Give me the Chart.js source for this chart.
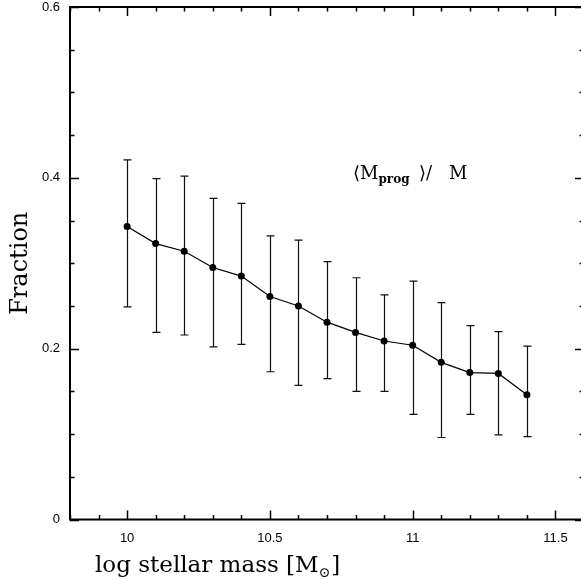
<!DOCTYPE html>
<html lang="en">
  <head>
    <meta charset="utf-8" />
    <title>Progenitor mass fraction</title>
    <script src="https://cdn.jsdelivr.net/npm/chart.js@4.4.1/dist/chart.umd.min.js"></script>
    <style>
      * { margin: 0; padding: 0; box-sizing: border-box; }
      html, body { overflow: hidden; background: #fff; }
      .wrap { width: 584px; height: 580px; }
      #chart { display: block; }
    </style>
  </head>
  <body>
    <div class="wrap">
      <canvas id="chart" width="584" height="580"></canvas>
    </div>

    <script>
      // log stellar mass bins
      const massBins = [10.0, 10.1, 10.2, 10.3, 10.4, 10.5, 10.6, 10.7, 10.8, 10.9, 11.0, 11.1, 11.2, 11.3, 11.4];
      // <M_prog>/M
      const fraction = [0.343, 0.323, 0.314, 0.295, 0.285, 0.261, 0.250, 0.231, 0.219, 0.209, 0.204, 0.184, 0.172, 0.171, 0.146];
      const errHigh = [0.421, 0.399, 0.402, 0.376, 0.370, 0.332, 0.327, 0.302, 0.283, 0.263, 0.279, 0.254, 0.227, 0.220, 0.203];
      const errLow = [0.249, 0.219, 0.216, 0.202, 0.205, 0.173, 0.157, 0.165, 0.150, 0.150, 0.123, 0.096, 0.123, 0.099, 0.097];

      const xTicks = [10, 10.5, 11, 11.5];
      const yTicks = [0, 0.2, 0.4, 0.6];
      const xMinorStep = 0.1;
      const yMinorStep = 0.05;

      const serif = "'DejaVu Serif', 'Liberation Serif', serif";
      const sans = "'Liberation Sans', Arial, sans-serif";

      // error bars, frame with inward ticks, annotation, x title
      const decorations = {
        id: "decorations",
        beforeDatasetsDraw(chart) {
          const { ctx, scales: { x, y } } = chart;
          ctx.save();
          ctx.strokeStyle = "#111";
          ctx.lineWidth = 1.2;
          massBins.forEach((m, i) => {
            const px = Math.round(x.getPixelForValue(m)) + 0.5;
            const top = y.getPixelForValue(errHigh[i]);
            const bot = y.getPixelForValue(errLow[i]);
            ctx.beginPath();
            ctx.moveTo(px, top);
            ctx.lineTo(px, bot);
            ctx.moveTo(px - 4, top);
            ctx.lineTo(px + 4, top);
            ctx.moveTo(px - 4, bot);
            ctx.lineTo(px + 4, bot);
            ctx.stroke();
          });
          ctx.restore();
        },
        afterDraw(chart) {
          const { ctx, chartArea: a, scales: { x, y } } = chart;
          ctx.save();
          ctx.strokeStyle = "#000";
          ctx.lineWidth = 2;
          ctx.strokeRect(a.left, a.top, a.right - a.left, a.bottom - a.top);

          ctx.lineWidth = 1.5;
          ctx.beginPath();
          // x ticks, bottom and top
          for (let v = x.min; v <= x.max + 1e-6; v += xMinorStep) {
            const major = xTicks.some((t) => Math.abs(t - v) < 1e-6);
            const len = major ? 9 : 4.5;
            const px = Math.round(x.getPixelForValue(v)) + 0.5;
            ctx.moveTo(px, a.bottom);
            ctx.lineTo(px, a.bottom - len);
            ctx.moveTo(px, a.top);
            ctx.lineTo(px, a.top + len);
          }
          // y ticks, left and right
          for (let v = y.min; v <= y.max + 1e-6; v += yMinorStep) {
            const major = yTicks.some((t) => Math.abs(t - v) < 1e-6);
            const len = major ? 9 : 4.5;
            const py = Math.round(y.getPixelForValue(v)) + 0.5;
            ctx.moveTo(a.left, py);
            ctx.lineTo(a.left + len, py);
            ctx.moveTo(a.right, py);
            ctx.lineTo(a.right - len, py);
          }
          ctx.stroke();

          // annotation <M_prog>/M
          ctx.fillStyle = "#000";
          ctx.textBaseline = "alphabetic";
          ctx.textAlign = "left";
          const bx = 353, by = 179;
          ctx.font = "18px " + serif;
          ctx.fillText("\u27E8M", bx, by);
          const w1 = ctx.measureText("\u27E8M").width;
          ctx.font = "bold 12px " + serif;
          ctx.fillText("prog", bx + w1, by + 4);
          ctx.font = "18px " + serif;
          ctx.fillText("\u27E9/", 419, by);
          ctx.fillText("M", 449, by);

          // x axis title
          ctx.font = "23px " + serif;
          ctx.fillText("log stellar mass [M", 95, 572);
          const w2 = ctx.measureText("log stellar mass [M").width;
          ctx.font = "14px " + serif;
          ctx.fillText("\u2299", 95 + w2, 577);
          const w3 = ctx.measureText("\u2299").width;
          ctx.font = "23px " + serif;
          ctx.fillText("]", 95 + w2 + w3 + 1, 572);
          ctx.restore();
        },
      };

      new Chart(document.getElementById("chart"), {
        type: "line",
        data: {
          datasets: [
            {
              data: massBins.map((m, i) => ({ x: m, y: fraction[i] })),
              borderColor: "#000",
              borderWidth: 1.2,
              pointRadius: 3.5,
              pointBackgroundColor: "#000",
              pointBorderColor: "#000",
              pointBorderWidth: 0,
              tension: 0,
            },
          ],
        },
        options: {
          responsive: false,
          devicePixelRatio: 1,
          animation: false,
          layout: { autoPadding: false, padding: { top: 7, right: 0, left: 0, bottom: 0 } },
          plugins: { legend: { display: false }, tooltip: { enabled: false } },
          scales: {
            x: {
              type: "linear",
              min: 9.8,
              max: 11.6,
              afterFit: (s) => {
                s.height = 60.5;
                s.paddingLeft = 0;
                s.paddingRight = 0;
              },
              afterBuildTicks: (s) => { s.ticks = xTicks.map((v) => ({ value: v })); },
              grid: { display: false, drawTicks: false },
              border: { display: false },
              ticks: {
                padding: 11,
                color: "#000",
                font: { family: sans, size: 13 },
                maxRotation: 0,
                callback: (v) => String(v),
              },
            },
            y: {
              min: 0,
              max: 0.6,
              afterFit: (s) => {
                s.width = 70;
                s.paddingTop = 0;
                s.paddingBottom = 0;
              },
              afterBuildTicks: (s) => { s.ticks = yTicks.map((v) => ({ value: v })); },
              grid: { display: false, drawTicks: false },
              border: { display: false },
              ticks: {
                padding: 10,
                color: "#000",
                font: { family: sans, size: 13 },
                callback: (v) => String(v),
              },
              title: {
                display: true,
                text: "Fraction",
                color: "#000",
                font: { family: serif, size: 24 },
                padding: { top: 6, bottom: 0 },
              },
            },
          },
        },
        plugins: [decorations],
      });
    </script>
  </body>
</html>
